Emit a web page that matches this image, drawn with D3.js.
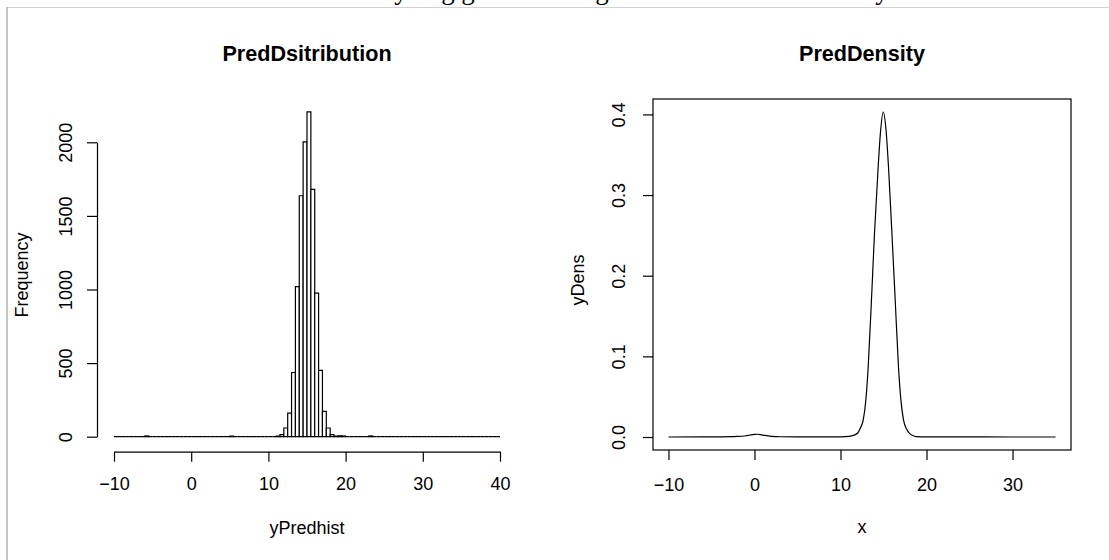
<!DOCTYPE html>
<html>
<head>
<meta charset="utf-8">
<script src="https://cdn.jsdelivr.net/npm/d3@7"></script>
<style>
  html, body { margin: 0; padding: 0; background: #fff; }
  svg { display: block; }
  text { font-family: "Liberation Sans", Arial, Helvetica, sans-serif; fill: #000; }
</style>
</head>
<body>
<svg id="chart" width="1109" height="560"></svg>
<script>
// ---------- data ----------
// histogram: bin lower edges with their counts (all other 0.5-wide bins in [-10,40) are 0)
const histRange = [-10, 40];
const binWidth = 0.5;
const nzBinLo   = [-6, 5, 11, 11.5, 12, 12.5, 13, 13.5, 14, 14.5, 15, 15.5, 16, 16.5, 17, 17.5, 18, 18.5, 19, 19.5, 23];
const nzCounts  = [ 5, 4,  4,   14, 59,  160, 436, 1020, 1637, 2003, 2207, 1680, 975, 450, 172, 59, 14, 4, 6, 5, 5];
const histXTicks = [-10, 0, 10, 20, 30, 40];
const histYTicks = [0, 500, 1000, 1500, 2000];

// density curve points (x, density)
const densX = [-10, -6, -4, -2, -1, -0.5, 0, 0.3, 0.7, 1.2, 2, 3, 5, 8, 10, 11, 11.5, 12, 12.3, 12.64, 12.95, 13.22, 13.6, 13.95, 14.38, 14.65, 14.97, 15.3, 15.58, 15.98, 16.36, 16.74, 17.02, 17.33, 17.7, 18.0, 18.4, 18.8, 20, 23, 26, 30, 35];
const densY = [0.0000, 0.0001, 0.0002, 0.0007, 0.0016, 0.0025, 0.0032, 0.0034, 0.0030, 0.0020, 0.0009, 0.0003, 0.0001, 0.0001, 0.0002, 0.0008, 0.0020, 0.0050, 0.0110, 0.021, 0.046, 0.087, 0.170, 0.252, 0.335, 0.378, 0.403, 0.380, 0.335, 0.252, 0.170, 0.087, 0.046, 0.021, 0.0095, 0.0048, 0.0018, 0.0006, 0.0002, 0.0002, 0.0001, 0.0000, 0.0000];
const densXTicks = [-10, 0, 10, 20, 30];
const densYTicks = [0.0, 0.1, 0.2, 0.3, 0.4];

const titles = ["PredDsitribution", "PredDensity"];
const xTitles = ["yPredhist", "x"];
const yTitles = ["Frequency", "yDens"];
const topFragments = ["y", "g", "g", "g", "y"];
const topFragX = [401, 448, 468, 602, 882];

// ---------- drawing ----------
const svg = d3.select("#chart");
const fmtMinus = s => String(s).replace("-", "\u2212");

// page frame (document edge)
svg.append("line").attr("x1", 7).attr("x2", 1109).attr("y1", 7.5).attr("y2", 7.5)
  .attr("stroke", "#d2d2d2").attr("stroke-width", 1.2);
svg.append("line").attr("x1", 7).attr("x2", 7).attr("y1", 7).attr("y2", 560)
  .attr("stroke", "#b4b4b4").attr("stroke-width", 1.6);

// text line above the figure, cut off by the page edge in the reference (only descenders visible)
svg.append("g").selectAll("text").data(topFragments).join("text")
  .attr("x", (d, i) => topFragX[i]).attr("y", -1)
  .attr("text-anchor", "middle")
  .style("font-family", "'Liberation Serif', 'Times New Roman', serif")
  .style("font-size", "27px")
  .text(d => d);

// ===== Left panel: histogram =====
const hx = d3.scaleLinear().domain([-10, 40]).range([114, 500]);
const hy = d3.scaleLinear().domain([0, 2000]).range([436.7, 142.3]);

const allBins = d3.range(histRange[0], histRange[1], binWidth);
const countOf = new Map(nzBinLo.map((b, i) => [b, nzCounts[i]]));
const bins = allBins.map(b => ({ lo: b, hi: b + binWidth, n: countOf.get(b) || 0 }));

svg.append("g").selectAll("path").data(bins).join("path")
  .attr("d", d => {
    const x0 = hx(d.lo), x1 = hx(d.hi), y0 = hy(0), y1 = hy(d.n);
    return `M${x0},${y0}V${y1}H${x1}V${y0}Z`;
  })
  .attr("fill", "#fff")
  .attr("stroke", "#000")
  .attr("stroke-width", 1.2);

// x axis
const hxAxis = svg.append("g").attr("transform", "translate(0,451.7)")
  .call(d3.axisBottom(hx).tickValues(histXTicks).tickSize(10).tickSizeOuter(0).tickPadding(7).tickFormat(fmtMinus));
hxAxis.selectAll("path,line").attr("stroke", "#000").attr("stroke-width", 1.2);
hxAxis.selectAll("text").style("font-size", "18px").attr("dy", 0).attr("y", 38.5)
  .style("font-family", "'Liberation Sans', Arial, sans-serif");

// y axis
const hyAxis = svg.append("g").attr("transform", "translate(97,0)")
  .call(d3.axisLeft(hy).tickValues(histYTicks).tickSize(10).tickSizeOuter(0).tickFormat(d3.format("d")));
hyAxis.selectAll("path,line").attr("stroke", "#000").attr("stroke-width", 1.2);
hyAxis.selectAll("text")
  .attr("transform", "rotate(-90)")
  .attr("x", 0).attr("y", -25).attr("dy", 0)
  .attr("text-anchor", "middle")
  .style("font-size", "18px")
  .style("font-family", "'Liberation Sans', Arial, sans-serif");

svg.append("text").attr("x", 307).attr("y", 61).attr("text-anchor", "middle")
  .style("font-size", "21.6px").style("font-weight", "bold").text(titles[0]);
svg.append("text").attr("x", 307).attr("y", 534).attr("text-anchor", "middle")
  .style("font-size", "18px").text(xTitles[0]);
svg.append("text").attr("transform", "translate(28,275) rotate(-90)").attr("text-anchor", "middle")
  .style("font-size", "18px").text(yTitles[0]);

// ===== Right panel: density =====
const dx = d3.scaleLinear().domain([-11.8, 36.8]).range([653, 1071]);
const dy = d3.scaleLinear().domain([-0.0161, 0.4191]).range([450, 99]);

const pts = densX.map((x, i) => [x, densY[i]]);
svg.append("path").datum(pts)
  .attr("d", d3.line().x(d => dx(d[0])).y(d => dy(d[1])).curve(d3.curveMonotoneX))
  .attr("fill", "none").attr("stroke", "#000").attr("stroke-width", 1.2);

svg.append("rect").attr("x", 653).attr("y", 99).attr("width", 1071 - 653).attr("height", 450 - 99)
  .attr("fill", "none").attr("stroke", "#000").attr("stroke-width", 1.2);

const dxAxis = svg.append("g").attr("transform", "translate(0,450)")
  .call(d3.axisBottom(dx).tickValues(densXTicks).tickSize(10).tickSizeOuter(0).tickFormat(fmtMinus));
dxAxis.select(".domain").remove();
dxAxis.selectAll("line").attr("stroke", "#000").attr("stroke-width", 1.2);
dxAxis.selectAll("text").style("font-size", "18px").attr("dy", 0).attr("y", 40.5)
  .style("font-family", "'Liberation Sans', Arial, sans-serif");

const dyAxis = svg.append("g").attr("transform", "translate(653,0)")
  .call(d3.axisLeft(dy).tickValues(densYTicks).tickSize(10).tickSizeOuter(0).tickFormat(d3.format(".1f")));
dyAxis.select(".domain").remove();
dyAxis.selectAll("line").attr("stroke", "#000").attr("stroke-width", 1.2);
dyAxis.selectAll("text")
  .attr("transform", "rotate(-90)")
  .attr("x", 0).attr("y", -28).attr("dy", 0)
  .attr("text-anchor", "middle")
  .style("font-size", "18px")
  .style("font-family", "'Liberation Sans', Arial, sans-serif");

svg.append("text").attr("x", 862).attr("y", 61).attr("text-anchor", "middle")
  .style("font-size", "21.6px").style("font-weight", "bold").text(titles[1]);
svg.append("text").attr("x", 862).attr("y", 533).attr("text-anchor", "middle")
  .style("font-size", "18px").text(xTitles[1]);
svg.append("text").attr("transform", "translate(584,280) rotate(-90)").attr("text-anchor", "middle")
  .style("font-size", "18px").text(yTitles[1]);
</script>
</body>
</html>
